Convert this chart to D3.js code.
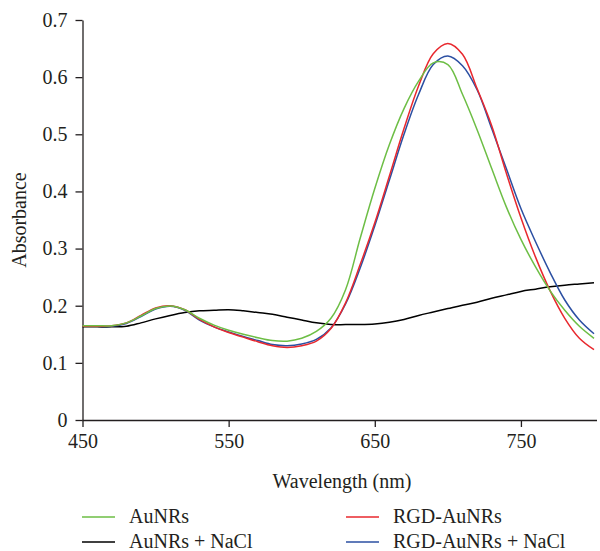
<!DOCTYPE html>
<html>
<head>
<meta charset="utf-8">
<script src="https://cdn.jsdelivr.net/npm/d3@7"></script>
<style>
  body { margin: 0; background: #fff; }
  svg text { font-family: "Liberation Serif", "DejaVu Serif", "Times New Roman", serif; fill: #231f20; }
</style>
</head>
<body>
<svg id="chart" width="600" height="551"></svg>
<script>
// wavelength grid (nm)
var wavelengths = [450,460,470,480,490,500,510,520,530,540,550,560,570,580,590,600,610,620,
                   630,640,650,660,670,680,690,700,710,720,730,740,750,760,770,780,790,800];

var aunrs = [0.165,0.165,0.165,0.170,0.182,0.195,0.1995,0.193,0.178,0.166,0.157,0.150,0.144,0.139,0.138,0.143,0.155,0.178,
             0.228,0.318,0.405,0.482,0.545,0.593,0.625,0.622,0.570,0.508,0.440,0.373,0.316,0.268,0.226,0.192,0.164,0.143];

var aunrs_nacl = [0.163,0.163,0.163,0.164,0.170,0.177,0.183,0.188,0.191,0.192,0.193,0.191,0.188,0.185,0.180,0.175,0.170,0.167,
                  0.167,0.167,0.168,0.171,0.176,0.183,0.189,0.195,0.201,0.206,0.213,0.219,0.225,0.229,0.233,0.236,0.238,0.240];

var rgd_aunrs = [0.164,0.164,0.165,0.170,0.183,0.196,0.200,0.193,0.176,0.163,0.153,0.145,0.137,0.130,0.127,0.130,0.138,0.160,
                 0.205,0.272,0.345,0.427,0.510,0.585,0.641,0.659,0.640,0.580,0.515,0.432,0.354,0.285,0.226,0.178,0.143,0.123];

var rgd_aunrs_nacl = [0.164,0.164,0.164,0.169,0.181,0.194,0.199,0.192,0.175,0.163,0.154,0.146,0.139,0.132,0.130,0.133,0.141,0.161,
                      0.203,0.266,0.340,0.420,0.500,0.570,0.622,0.637,0.620,0.578,0.510,0.440,0.370,0.312,0.258,0.210,0.175,0.151];

var series_names = ['AuNRs', 'AuNRs + NaCl', 'RGD-AuNRs', 'RGD-AuNRs + NaCl'];
var series_values = [aunrs, aunrs_nacl, rgd_aunrs, rgd_aunrs_nacl];
var series_colors = ['#6dbe45', '#000000', '#e8282e', '#2b4fa2'];

var x_ticks = [450, 550, 650, 750];
var y_ticks = [0, 0.1, 0.2, 0.3, 0.4, 0.5, 0.6, 0.7];

var FONT = '"Liberation Serif", "DejaVu Serif", "Times New Roman", serif';

var svg = d3.select('#chart');

var x = d3.scaleLinear().domain([450, 800]).range([82.5, 594]);
var y = d3.scaleLinear().domain([0, 0.7]).range([420, 20]);

// x axis
var x_axis = svg.append('g')
	.attr('transform', 'translate(0,420)')
	.call(d3.axisBottom(x).tickValues(x_ticks).tickSize(7).tickSizeOuter(0).tickPadding(7).tickFormat(d3.format('d')));
x_axis.select('.domain').attr('d', 'M82.5,0.5H597');

// y axis
var y_axis = svg.append('g')
	.attr('transform', 'translate(82.5,0)')
	.call(d3.axisLeft(y).tickValues(y_ticks).tickSize(7).tickSizeOuter(0).tickPadding(8)
		.tickFormat(function(d) { return d == 0 ? '0' : d3.format('.1f')(d); }));

svg.selectAll('g').attr('font-family', FONT);
svg.selectAll('.tick text').attr('font-size', 20).attr('fill', '#231f20');
svg.selectAll('.domain, .tick line').attr('stroke', '#231f20').attr('stroke-width', 1.3);

// axis titles
svg.append('text')
	.attr('x', 342).attr('y', 488)
	.attr('text-anchor', 'middle')
	.attr('font-family', FONT)
	.attr('font-size', 20)
	.text('Wavelength (nm)');

svg.append('text')
	.attr('transform', 'translate(26,220) rotate(-90)')
	.attr('text-anchor', 'middle')
	.attr('font-family', FONT)
	.attr('font-size', 20)
	.text('Absorbance');

// curves
var line = d3.line()
	.x(function(d) { return x(d.x); })
	.y(function(d) { return y(d.y); })
	.curve(d3.curveCatmullRom.alpha(0.5));

var draw_order = [1, 3, 2, 0];
for (var i of draw_order)
{
	var pts = wavelengths.map(function(w, j) { return { x: w, y: series_values[i][j] }; });
	svg.append('path')
		.datum(pts)
		.attr('fill', 'none')
		.attr('stroke', series_colors[i])
		.attr('stroke-width', 1.5)
		.attr('d', line);
}

// legend
var legend_pos = [[82, 517], [82, 542], [346, 517], [346, 542]];
series_names.forEach(function(name, i) {
	var g = svg.append('g').attr('transform', 'translate(' + legend_pos[i][0] + ',' + legend_pos[i][1] + ')');
	g.append('line').attr('x1', 0).attr('x2', 33).attr('y1', 0).attr('y2', 0)
		.attr('stroke', series_colors[i]).attr('stroke-width', 1.5);
	g.append('text').attr('x', 47).attr('y', 6)
		.attr('font-family', FONT).attr('font-size', 20).text(name);
});
</script>
</body>
</html>
